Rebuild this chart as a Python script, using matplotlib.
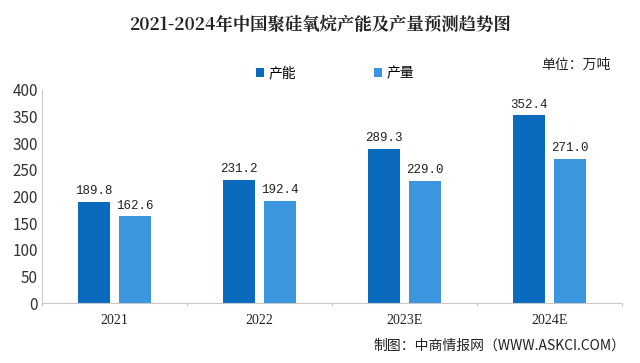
import matplotlib
matplotlib.use("Agg")
import matplotlib.pyplot as plt
import numpy as np

plt.rcParams['font.family'] = ['Noto Sans CJK SC', 'DejaVu Sans']

categories = ["2021", "2022", "2023E", "2024E"]
capacity = [189.8, 231.2, 289.3, 352.4]
output = [162.6, 192.4, 229.0, 271.0]
series_names = ["产能", "产量"]
yticks = [0, 50, 100, 150, 200, 250, 300, 350, 400]

c_dark = "#0A6BBE"
c_light = "#3C96DF"

fig = plt.figure(figsize=(6.4, 3.63), dpi=100)
ax = fig.add_axes([42/640, 1-303/363, 580/640, 213/363])

x = np.arange(len(categories))
w = 0.22
off = 0.141
b1 = ax.bar(x - off, capacity, w, color=c_dark, label=series_names[0])
b2 = ax.bar(x + off, output, w, color=c_light, label=series_names[1])

for bars, vals in ((b1, capacity), (b2, output)):
    for r, v in zip(bars, vals):
        ax.text(r.get_x() + r.get_width()/2, v + 9, f"{v:.1f}", ha='center', va='bottom',
                fontsize=9, family=['Liberation Mono', 'DejaVu Sans Mono'], color='#222222')

ax.set_xlim(-0.5, len(categories) - 0.5)
ax.set_ylim(0, 400)
ax.set_yticks(yticks)
ax.set_yticklabels([str(t) for t in yticks], fontsize=11, color='#333333')
ax.set_xticks(x)
ax.set_xticklabels(categories, fontsize=10, family=['Liberation Serif', 'DejaVu Serif'], color='#222222')
ax.tick_params(axis='x', length=0, pad=8)
ax.tick_params(axis='y', length=0, pad=3)
for b in np.arange(-0.5, len(categories), 1.0):
    ax.plot([b, b], [0, -4], color='#BBBBBB', lw=0.8, clip_on=False, transform=ax.transData)

for s in ['top', 'right']:
    ax.spines[s].set_visible(False)
ax.spines['left'].set_color('#C8C8C8')
ax.spines['bottom'].set_color('#C8C8C8')

fig.text(0.5, 1-25/363, "2021-2024年中国聚硅氧烷产能及产量预测趋势图", ha='center', va='center',
         fontsize=12.5, fontweight='bold', family=['Noto Serif CJK SC', 'Noto Sans CJK SC', 'DejaVu Serif'],
         color='#222222')

leg = fig.legend(handles=[b1, b2], labels=series_names, loc='center', ncol=2,
                 bbox_to_anchor=(335/640, 1-73/363), frameon=False, fontsize=10,
                 handlelength=0.6, handleheight=0.6, columnspacing=5.6, handletextpad=0.3)

fig.text(576/640, 1-65/363, "单位：万吨", ha='center', va='center', fontsize=10, color='#222222')
fig.text(499/640, 1-346/363, "制图：中商情报网（WWW.ASKCI.COM）", ha='center', va='center',
         fontsize=10, color='#222222')

fig.savefig("out.png", dpi=100)
